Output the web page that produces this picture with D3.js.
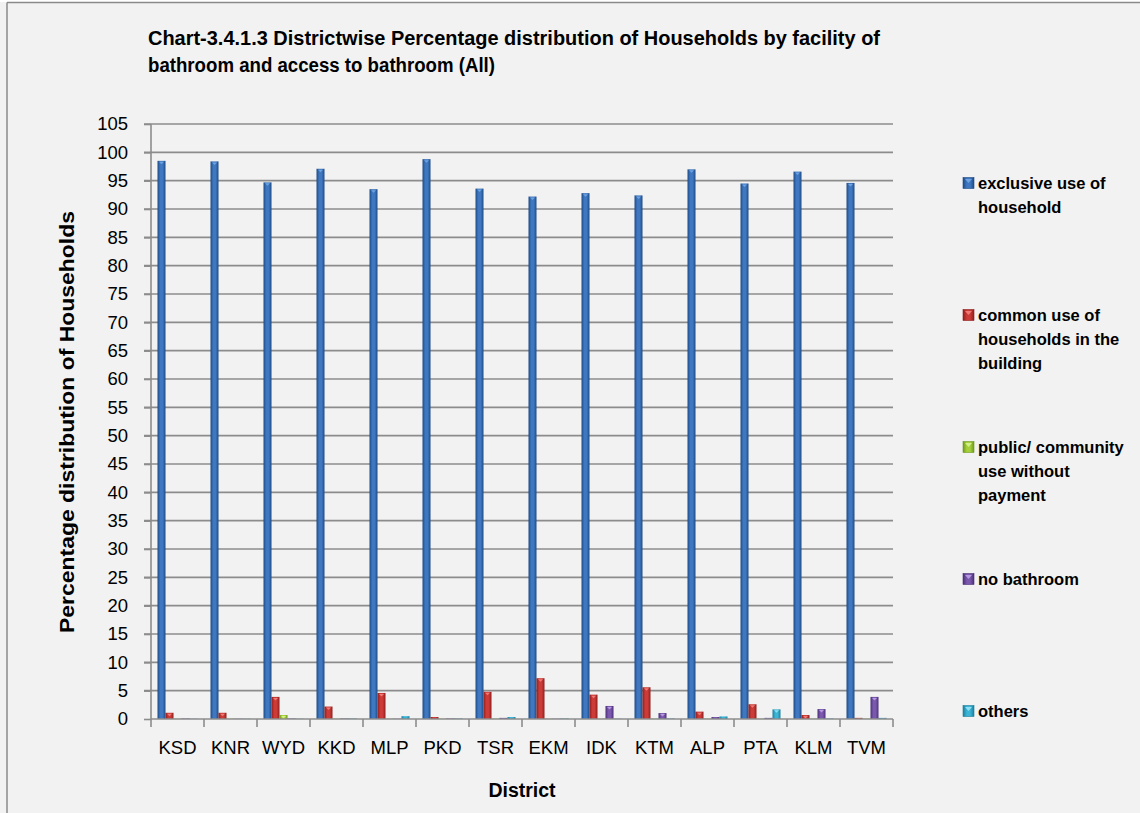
<!DOCTYPE html>
<html>
<head>
<meta charset="utf-8">
<script src="https://cdn.jsdelivr.net/npm/d3@7"></script>
<style>
  html, body { margin: 0; padding: 0; background: #f2f2f2; }
  svg { display: block; }
</style>
</head>
<body>
<svg id="chart" width="1140" height="813"></svg>
<script>
const districts = ["KSD","KNR","WYD","KKD","MLP","PKD","TSR","EKM","IDK","KTM","ALP","PTA","KLM","TVM"];
const seriesNames = ["exclusive use of household","common use of households in the building","public/ community use without payment","no bathroom","others"];
const exclusiveUse = [98.5,98.4,94.7,97.1,93.5,98.8,93.6,92.2,92.8,92.4,97.0,94.5,96.6,94.6];
const commonUse    = [1.1,1.1,3.9,2.2,4.6,0.35,4.8,7.2,4.3,5.6,1.3,2.6,0.7,0.2];
const publicUse    = [0.05,0.05,0.7,0.05,0.05,0.05,0.05,0.05,0.05,0.05,0.05,0.05,0.05,0.05];
const noBathroom   = [0.1,0.05,0.1,0.1,0.05,0.1,0.2,0.05,2.3,1.05,0.35,0.2,1.75,3.9];
const others       = [0.05,0.05,0.05,0.1,0.5,0.1,0.35,0.1,0.05,0.1,0.45,1.7,0.1,0.2];
const yTicks = d3.range(0, 106, 5);
const legendLines = [["exclusive use of","household"],["common use of","households in the","building"],["public/ community","use without","payment"],["no bathroom"],["others"]];
const colors = [
  {dark:"#1d4a86", light:"#3f78c0", cap:"#6ea2e0"},
  {dark:"#8e1f1d", light:"#cc3b37", cap:"#f07a76"},
  {dark:"#6f9a1e", light:"#a6d03a", cap:"#d4f08a"},
  {dark:"#4b2f78", light:"#7a58ad", cap:"#b498e0"},
  {dark:"#1b7f9c", light:"#3bb4d6", cap:"#8fe0f4"}
];
const seriesValues = [exclusiveUse, commonUse, publicUse, noBathroom, others];

const svg = d3.select("#chart");
const font = "'Liberation Sans', Arial, sans-serif";

// frame
svg.append("rect").attr("x",0).attr("y",0).attr("width",1140).attr("height",2).attr("fill","#ffffff");
svg.append("line").attr("x1",7).attr("x2",1140).attr("y1",2.5).attr("y2",2.5).attr("stroke","#8a8a8a").attr("stroke-width",1.5);
svg.append("line").attr("x1",7).attr("x2",7).attr("y1",2.5).attr("y2",813).attr("stroke","#8a8a8a").attr("stroke-width",1.5);

// gradients
const defs = svg.append("defs");
colors.forEach((c,i) => {
  const g = defs.append("linearGradient").attr("id","g"+i).attr("x1","0%").attr("x2","100%").attr("y1","0%").attr("y2","0%");
  g.append("stop").attr("offset","0%").attr("stop-color",c.dark);
  g.append("stop").attr("offset","35%").attr("stop-color",c.light);
  g.append("stop").attr("offset","65%").attr("stop-color",c.light);
  g.append("stop").attr("offset","100%").attr("stop-color",c.dark);
});

const x0 = d3.scaleBand().domain(districts).range([151, 893]).paddingInner(0).paddingOuter(0);
const x1 = d3.scaleBand().domain(d3.range(seriesNames.length)).range([6.5, x0.bandwidth() - 6.5]).padding(0);
const y = d3.scaleLinear().domain([0, 105]).range([719, 124]);

// gridlines
svg.append("g").selectAll("line").data(yTicks.filter(t => t > 0)).join("line")
  .attr("x1", 144).attr("x2", 893)
  .attr("y1", d => y(d)).attr("y2", d => y(d))
  .attr("stroke", "#8c8c8c").attr("stroke-width", 1.6);

// y axis
const yAxis = d3.axisLeft(y).tickValues(yTicks).tickSize(7).tickPadding(16);
const yg = svg.append("g").attr("transform","translate(151,0)").call(yAxis);
yg.select(".domain").attr("stroke","#8c8c8c").attr("stroke-width",1.6).attr("d","M0,124V719");
yg.selectAll(".tick line").attr("stroke","#8c8c8c").attr("stroke-width",1.6);
yg.selectAll(".tick text").attr("font-family",font).attr("font-size",18.5).attr("fill","#000");

// bars
const groups = svg.append("g").selectAll("g").data(districts).join("g")
  .attr("transform", d => `translate(${x0(d)},0)`);
groups.each(function(d, di) {
  const g = d3.select(this);
  seriesValues.forEach((vals, si) => {
    const v = vals[di];
    const bx = x1(si), bw = x1.bandwidth();
    g.append("rect").attr("x", bx).attr("width", bw)
      .attr("y", y(v)).attr("height", y(0) - y(v))
      .attr("fill", `url(#g${si})`);
    if (y(0) - y(v) > 3) {
      g.append("path")
        .attr("d", `M${bx+1.5},${y(v)+1}L${bx+bw-1.5},${y(v)+1}L${bx+bw/2},${y(v)+3.5}Z`)
        .attr("fill", colors[si].cap);
    }
  });
});

// x axis
const xAxis = d3.axisBottom(x0).tickSize(0).tickPadding(22);
const xg = svg.append("g").attr("transform","translate(0,719)").call(xAxis);
xg.select(".domain").attr("stroke","#8c8c8c").attr("stroke-width",1.6).attr("d","M151,0H893");
xg.selectAll(".tick text").attr("font-family",font).attr("font-size",18.5).attr("fill","#000");
svg.append("g").selectAll("line").data(d3.range(districts.length + 1)).join("line")
  .attr("x1", i => 151 + i * x0.bandwidth()).attr("x2", i => 151 + i * x0.bandwidth())
  .attr("y1", 719).attr("y2", 727)
  .attr("stroke", "#8c8c8c").attr("stroke-width", 1.6);

// title
const titleLines = ["Chart-3.4.1.3 Districtwise Percentage distribution of Households by facility of", "bathroom and access to bathroom (All)"];
const titleWidths = [732, 347];
svg.append("g").selectAll("text").data(titleLines).join("text")
  .attr("x", 148).attr("y", (d,i) => 45 + i * 27)
  .attr("font-family", font).attr("font-weight","bold").attr("font-size", 20)
  .attr("textLength", (d,i) => titleWidths[i]).attr("lengthAdjust","spacingAndGlyphs")
  .text(d => d);

// axis titles
svg.append("text").attr("transform","translate(74,422) rotate(-90)")
  .attr("text-anchor","middle").attr("font-family",font).attr("font-weight","bold").attr("font-size",21)
  .attr("textLength", 422).attr("lengthAdjust","spacingAndGlyphs")
  .text("Percentage distribution of Households");
svg.append("text").attr("x", 522).attr("y", 797)
  .attr("text-anchor","middle").attr("font-family",font).attr("font-weight","bold").attr("font-size",19.5)
  .text("District");

// legend
const legendY = [183, 315, 447, 579, 711];
const lg = svg.append("g").selectAll("g").data(seriesNames).join("g")
  .attr("transform", (d,i) => `translate(963,${legendY[i]})`);
lg.append("rect").attr("x",0).attr("y",-5.5).attr("width",11).attr("height",11)
  .attr("fill",(d,i)=>`url(#g${i})`).attr("stroke",(d,i)=>colors[i].dark).attr("stroke-width",0.6);
lg.append("path").attr("d","M2,-4L9,-4L5.5,0Z").attr("fill",(d,i)=>colors[i].cap);
lg.each(function(d,i){
  const t = d3.select(this).append("text").attr("x",15).attr("y",6)
    .attr("font-family",font).attr("font-weight","bold").attr("font-size",16.5);
  legendLines[i].forEach((line, li) => {
    t.append("tspan").attr("x",15).attr("dy", li === 0 ? 0 : 24).text(line);
  });
});
</script>
</body>
</html>
